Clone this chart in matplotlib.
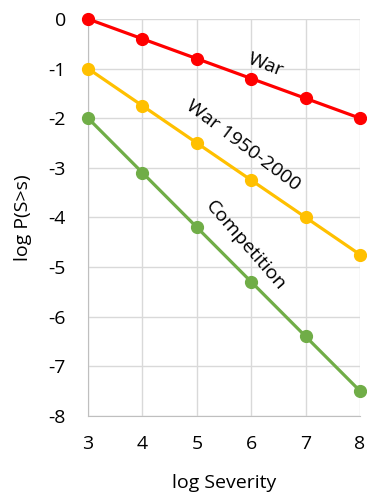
import matplotlib.pyplot as plt

# данные графика
severity = [3, 4, 5, 6, 7, 8]
war = [0, -0.4, -0.8, -1.2, -1.6, -2.0]
war_1950_2000 = [-1.0, -1.75, -2.5, -3.25, -4.0, -4.75]
competition = [-2.0, -3.1, -4.2, -5.3, -6.4, -7.5]

plt.rcParams['font.family'] = ['Open Sans', 'DejaVu Sans']
plt.rcParams['axes.unicode_minus'] = False

fig = plt.figure(figsize=(3.67, 4.95), dpi=100)
ax = fig.add_axes([0.24, 0.16, 0.741, 0.8016])

series = [(war, "#FF0000"), (war_1950_2000, "#FFC000"), (competition, "#70AD47")]
for values, color in series:
    ax.plot(severity, values, color=color, linewidth=2.3, marker="o",
            markersize=8.5, clip_on=False, zorder=3)

ax.set_xlim(3, 8)
ax.set_ylim(-8, 0)
ax.set_xticks(severity)
ax.set_yticks(range(-8, 1))
ax.grid(color="#d9d9d9", linewidth=1)
ax.set_axisbelow(True)
for side in ["top", "right"]:
    ax.spines[side].set_visible(False)
for side in ["left", "bottom"]:
    ax.spines[side].set_color("#bfbfbf")
ax.tick_params(length=0, labelsize=14, pad=16, colors="black")
ax.tick_params(axis="x", pad=14)
ax.set_xlabel("log Severity", fontsize=14, labelpad=15)
ax.set_ylabel("log P(S>s)", fontsize=14, labelpad=12)

# подписи линий
ax.text(6.27, -0.93, "War", rotation=-21, fontsize=14, ha="center", va="center")
ax.text(5.85, -2.56, "War 1950-2000", rotation=-37, fontsize=14, ha="center", va="center")
ax.text(5.9, -4.56, "Competition", rotation=-49, fontsize=14, ha="center", va="center")

fig.savefig("out.png", dpi=100)
